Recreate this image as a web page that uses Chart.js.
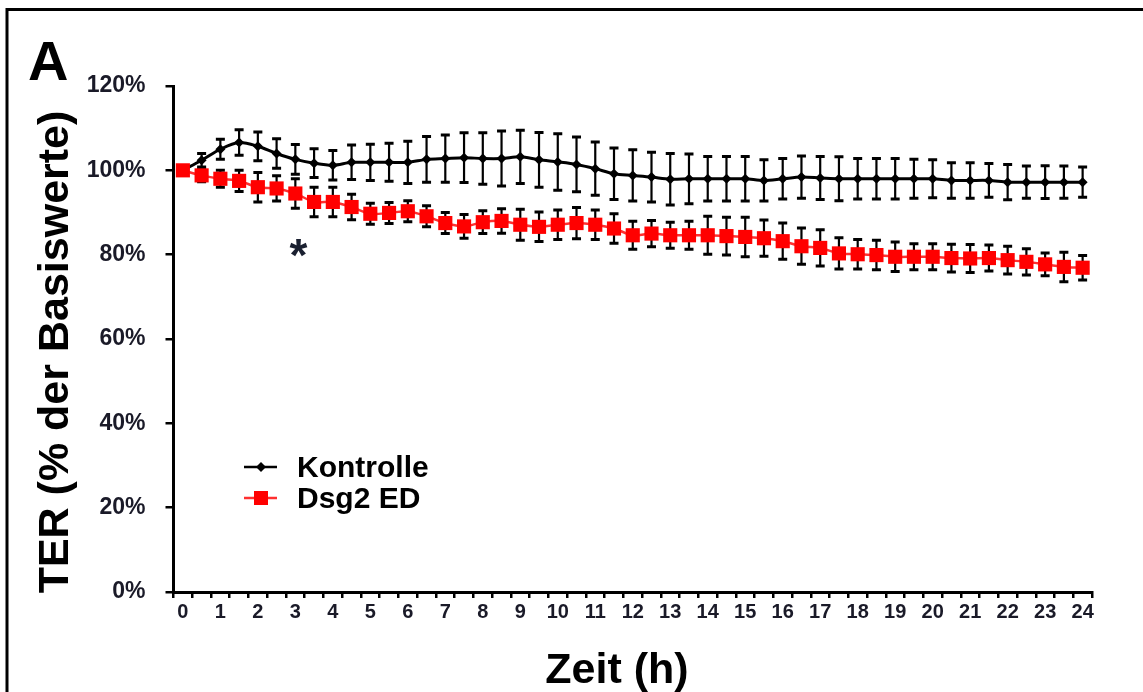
<!DOCTYPE html>
<html>
<head>
<meta charset="utf-8">
<title>TER</title>
<script src="https://cdn.jsdelivr.net/npm/chart.js@4.4.1/dist/chart.umd.min.js"></script>
<style>
  html, body { margin: 0; padding: 0; background: #fff; }
  #wrap { width: 1143px; height: 692px; }
</style>
</head>
<body>
<div id="wrap"><canvas id="terChart" width="1143" height="692"></canvas></div>
<script>
// Zeitpunkte (h), alle 30 min
const zeitLabels = ['0', '0.5', '1', '1.5', '2', '2.5', '3', '3.5', '4', '4.5', '5', '5.5', '6', '6.5',
  '7', '7.5', '8', '8.5', '9', '9.5', '10', '10.5', '11', '11.5', '12', '12.5', '13', '13.5', '14',
  '14.5', '15', '15.5', '16', '16.5', '17', '17.5', '18', '18.5', '19', '19.5', '20', '20.5', '21',
  '21.5', '22', '22.5', '23', '23.5', '24'];

// TER in % der Basiswerte (Mittelwert) und Fehlerbalken
const kontrolle = [100, 102.4, 105.0, 106.6, 105.7, 104.0, 102.6, 101.7, 101.2, 101.9, 101.9, 101.9,
  101.9, 102.6, 102.8, 103.0, 102.8, 102.8, 103.2, 102.5, 102.0, 101.4, 100.4, 99.2, 98.8, 98.4, 97.9,
  98.0, 98.0, 98.0, 98.0, 97.6, 98.0, 98.4, 98.2, 98.0, 98.0, 98.0, 98.0, 98.0, 98.0, 97.6, 97.6, 97.6,
  97.2, 97.2, 97.2, 97.2, 97.2];
const kontrolleFehler = [0, 1.6, 2.4, 3.0, 3.4, 3.5, 3.5, 3.4, 3.5, 4.1, 4.3, 4.5, 5.0, 5.4, 5.6, 5.9,
  6.1, 6.5, 6.3, 6.5, 6.7, 6.5, 6.3, 6.1, 6.1, 5.9, 6.1, 5.9, 5.3, 5.3, 5.3, 4.9,
  4.8, 5.0, 5.1, 5.2, 4.8, 4.8, 4.8, 4.6, 4.5, 4.2, 4.2, 4.0, 4.2, 3.8, 3.9, 3.8, 3.6];

const dsg2ED = [100, 98.8, 98.0, 97.5, 96.0, 95.7, 94.5, 92.5, 92.5, 91.3, 89.7, 89.9, 90.3, 89.1,
  87.5, 86.7, 87.7, 88.0, 87.1, 86.6, 87.1, 87.5, 87.1, 86.2, 84.6, 85.0, 84.6, 84.6, 84.6, 84.4, 84.2,
  83.9, 83.2, 82.0, 81.6, 80.3, 80.1, 79.9, 79.5, 79.5, 79.5, 79.2, 79.1, 79.2, 78.7, 78.3, 77.7, 77.1,
  76.9];
const dsg2EDFehler = [0, 1.5, 2.0, 2.5, 3.5, 3.0, 3.5, 3.5, 3.5, 3.0, 2.5, 2.5, 2.5, 2.5, 2.5, 2.8,
  2.7, 2.9, 3.7, 3.5, 3.5, 3.7, 3.5, 3.5, 3.3, 3.1, 3.1, 3.3, 4.5, 4.5, 4.7, 4.3,
  4.3, 4.3, 4.3, 3.7, 3.5, 3.5, 3.5, 3.1, 3.1, 3.3, 3.3, 3.1, 3.3, 3.1, 2.7, 3.5, 2.9];

// Signifikanzmarke (*) bei 3 h
const sternZeit = '3';
const sternWert = 82.5;

const FONT = '"Liberation Sans", Arial, sans-serif';

// Fehlerbalken (Mittelwert +/- Fehler) hinter den Linien
const fehlerBalken = {
  id: 'fehlerBalken',
  beforeDatasetsDraw(chart) {
    const { ctx, scales: { x, y } } = chart;
    ctx.save();
    ctx.strokeStyle = '#000';
    chart.data.datasets.forEach(ds => {
      ds.data.forEach((v, i) => {
        const f = ds.fehler[i];
        if (!f) return;
        const px = x.getPixelForValue(i);
        const oben = y.getPixelForValue(v + f);
        const unten = y.getPixelForValue(v - f);
        ctx.lineWidth = 2.2;
        ctx.beginPath();
        ctx.moveTo(px, oben); ctx.lineTo(px, unten);
        ctx.stroke();
        ctx.lineWidth = 3;
        ctx.beginPath();
        ctx.moveTo(px - 4.5, oben); ctx.lineTo(px + 4.5, oben);
        ctx.moveTo(px - 4.5, unten); ctx.lineTo(px + 4.5, unten);
        ctx.stroke();
      });
    });
    ctx.restore();
  }
};

// Rahmen, Achsentitel, Legende, Stern
const beschriftung = {
  id: 'beschriftung',
  afterDraw(chart) {
    const { ctx, scales: { x, y } } = chart;
    ctx.save();
    ctx.strokeStyle = '#000';
    ctx.lineWidth = 3;
    ctx.beginPath();
    ctx.moveTo(7, 692); ctx.lineTo(7, 9.5); ctx.lineTo(1143, 9.5);
    ctx.stroke();

    ctx.fillStyle = '#000';
    ctx.textAlign = 'left';
    ctx.textBaseline = 'alphabetic';
    ctx.font = 'bold 56px ' + FONT;
    ctx.fillText('A', 28, 80);

    ctx.save();
    ctx.translate(68, 352);
    ctx.rotate(-Math.PI / 2);
    ctx.textAlign = 'center';
    ctx.font = 'bold 43px ' + FONT;
    ctx.fillText('TER (% der Basiswerte)', 0, 0);
    ctx.restore();

    ctx.textAlign = 'center';
    ctx.font = 'bold 43px ' + FONT;
    ctx.fillText('Zeit (h)', 617, 683);

    // Stern
    ctx.font = 'bold 46px ' + FONT;
    ctx.fillStyle = '#1a2030';
    ctx.fillText('*', x.getPixelForValue(zeitLabels.indexOf(sternZeit)) + 3, y.getPixelForValue(sternWert) + 27);

    // Legende
    const eintraege = [chart.data.datasets[1], chart.data.datasets[0]];
    const zeilen = [467, 498];
    ctx.textAlign = 'left';
    ctx.font = 'bold 30px ' + FONT;
    eintraege.forEach((ds, k) => {
      const ly = zeilen[k];
      ctx.strokeStyle = ds.borderColor;
      ctx.lineWidth = 2.5;
      ctx.beginPath(); ctx.moveTo(244, ly); ctx.lineTo(277, ly); ctx.stroke();
      ctx.fillStyle = ds.pointBackgroundColor;
      ctx.beginPath();
      if (ds.pointStyle === 'rect') {
        ctx.rect(254, ly - 7, 14, 14);
      } else {
        ctx.moveTo(261, ly - 5); ctx.lineTo(266, ly); ctx.lineTo(261, ly + 5); ctx.lineTo(256, ly);
        ctx.closePath();
      }
      ctx.fill();
      ctx.fillStyle = '#000';
      ctx.fillText(ds.label, 297, ly + 10);
    });
    ctx.restore();
  }
};

new Chart(document.getElementById('terChart').getContext('2d'), {
  type: 'line',
  data: {
    labels: zeitLabels,
    datasets: [
      {
        label: 'Dsg2 ED',
        data: dsg2ED,
        fehler: dsg2EDFehler,
        borderColor: '#ff3030',
        borderWidth: 2.5,
        pointStyle: 'rect',
        pointRadius: 10,
        pointBackgroundColor: '#ff0000',
        pointBorderWidth: 0,
        tension: 0.3,
        order: 0,
        clip: false
      },
      {
        label: 'Kontrolle',
        data: kontrolle,
        fehler: kontrolleFehler,
        borderColor: '#000',
        borderWidth: 3,
        pointStyle: 'rectRot',
        pointRadius: 5,
        pointBackgroundColor: '#000',
        pointBorderWidth: 0,
        tension: 0.3,
        order: 1,
        clip: false
      }
    ]
  },
  options: {
    responsive: false,
    animation: false,
    devicePixelRatio: 1,
    layout: { padding: { left: 86.5, right: 51, top: 86, bottom: 60 } },
    plugins: {
      legend: { display: false },
      tooltip: { enabled: false }
    },
    scales: {
      x: {
        type: 'category',
        offset: true,
        grid: { offset: true, drawOnChartArea: false, drawTicks: true, tickLength: 6, color: '#000', lineWidth: 2.5 },
        border: { color: '#000', width: 3 },
        ticks: {
          autoSkip: false,
          maxRotation: 0,
          color: '#1a1a28',
          padding: 2,
          font: { family: FONT, size: 20, weight: 'bold' },
          callback: (v, i) => (i % 2 === 0 ? zeitLabels[i] : '')
        },
        afterFit(scale) { scale.height = 40; }
      },
      y: {
        min: 0,
        max: 120,
        grid: { drawOnChartArea: false, drawTicks: true, tickLength: 8, color: '#000', lineWidth: 2.5 },
        border: { color: '#000', width: 3 },
        ticks: {
          stepSize: 20,
          color: '#1a1a28',
          padding: 20,
          font: { family: FONT, size: 23, weight: 'bold' },
          callback: v => v + '%'
        },
        afterFit(scale) { scale.width = 87; }
      }
    }
  },
  plugins: [fehlerBalken, beschriftung]
});
</script>
</body>
</html>
